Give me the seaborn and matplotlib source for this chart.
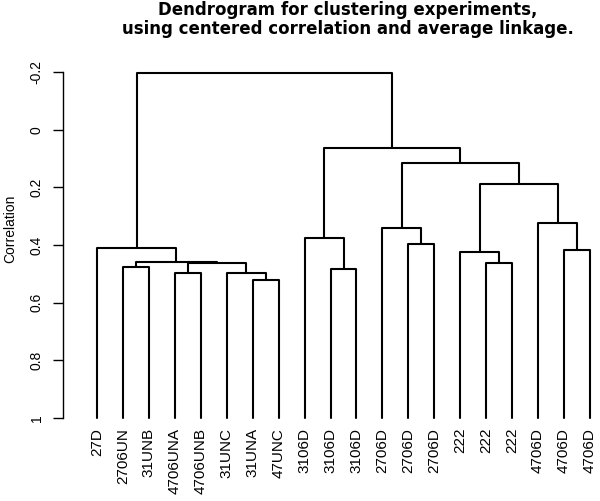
import numpy as np
import pandas as pd
import seaborn as sns
import matplotlib
matplotlib.use("Agg")
import matplotlib.pyplot as plt

# dendrogram of 20 experiments, centered correlation / average linkage

labels = ["27D", "2706UN", "31UNB", "4706UNA", "4706UNB", "31UNC", "31UNA", "47UNC",
          "3106D", "3106D", "3106D", "2706D", "2706D", "2706D",
          "222", "222", "222", "4706D", "4706D", "4706D"]

# merges: node 20 onwards, (left child, right child, height)
merge_left = [1, 3, 6, 5, 21, 20, 0, 9, 8, 12, 11, 15, 14, 18, 17, 32, 30, 28, 26]
merge_right = [2, 4, 7, 22, 23, 24, 25, 10, 27, 13, 29, 16, 31, 19, 33, 34, 35, 36, 37]
merge_height = [0.476, 0.497, 0.52, 0.496, 0.464, 0.46, 0.41, 0.484, 0.374, 0.397, 0.342,
                0.464, 0.426, 0.418, 0.322, 0.189, 0.114, 0.062, -0.198]

leaf_height = 1.0
yticks = [-0.2, 0, 0.2, 0.4, 0.6, 0.8, 1]
yticklabels = ["-0.2", "0", "0.2", "0.4", "0.6", "0.8", "1"]

n = len(labels)
xpos = {i: i + 1 for i in range(n)}
hpos = {i: leaf_height for i in range(n)}

rows = []
for k, (a, b, h) in enumerate(zip(merge_left, merge_right, merge_height)):
    node = n + k
    pts = [(xpos[a], hpos[a]), (xpos[a], h), (xpos[b], h), (xpos[b], hpos[b])]
    for j, (x, y) in enumerate(pts):
        rows.append({"seg": k, "order": j, "x": x, "y": y})
    xpos[node] = (xpos[a] + xpos[b]) / 2
    hpos[node] = h

df = pd.DataFrame(rows)

sns.set_style("white", {"text.color": "black", "axes.labelcolor": "black",
                        "xtick.color": "black", "ytick.color": "black"})
plt.rcParams["font.family"] = ["Liberation Sans", "DejaVu Sans"]

fig = plt.figure(figsize=(6, 5.01), dpi=100)
W, H = 600, 501
ax = fig.add_axes([63 / W, (H - 418) / H, (W - 63) / W, (418 - 72) / H])

sns.lineplot(data=df, x="x", y="y", units="seg", estimator=None, sort=False,
             color="black", linewidth=1.5, ax=ax, clip_on=False)

unit = (590 - 97) / 19
ax.set_xlim(1 - 34 / unit, n + 10 / unit)
ax.set_ylim(1, -0.2)

ax.set_xticks(range(1, n + 1))
ax.set_xticklabels(labels, rotation=90, fontsize=11, va="top", color="black")
ax.tick_params(axis="x", length=0, pad=7)

ax.set_yticks(yticks)
ax.set_yticklabels(yticklabels, rotation=90, va="center", fontsize=10, color="black")
ax.tick_params(axis="y", length=7.5, width=1, direction="out", pad=6.5, left=True, color="black")

for s in ["top", "right", "bottom"]:
    ax.spines[s].set_visible(False)
ax.spines["left"].set_color("black")
ax.spines["left"].set_linewidth(1)
ax.set_xlabel("")
ax.set_ylabel("")

fig.text(10 / W, 1 - 229 / H, "Correlation", rotation=90, ha="center", va="center",
         fontsize=10, color="black")
fig.text(348 / W, 1 - 15 / H, "Dendrogram for clustering experiments,",
         ha="center", va="baseline", fontsize=12, fontweight="bold", family="DejaVu Sans",
         color="black")
fig.text(348 / W, 1 - 34 / H, "using centered correlation and average linkage.",
         ha="center", va="baseline", fontsize=12, fontweight="bold", family="DejaVu Sans",
         color="black")

fig.savefig("out.png", dpi=100)
